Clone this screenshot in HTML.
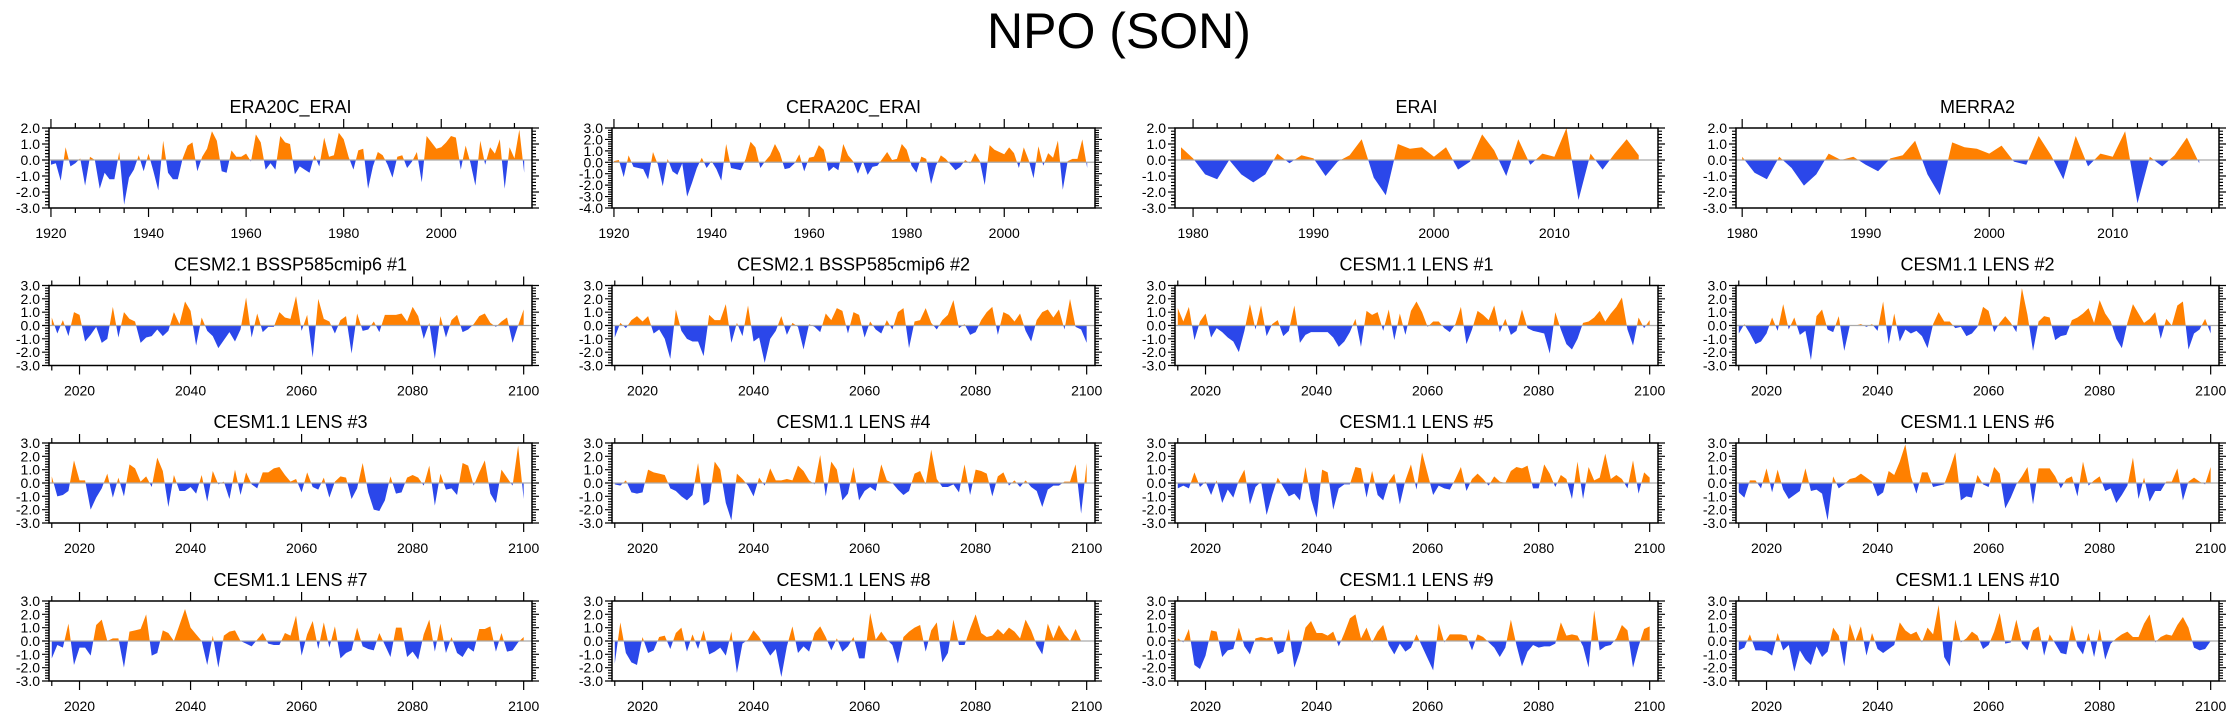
<!DOCTYPE html>
<html><head><meta charset="utf-8"><title>NPO (SON)</title>
<style>
html,body{margin:0;padding:0;background:#fff;}
svg{display:block;font-family:"Liberation Sans",Arial,sans-serif;}
</style></head>
<body>
<svg id="chart" width="2238" height="719" viewBox="0 0 2238 719" xmlns="http://www.w3.org/2000/svg">
<rect x="0" y="0" width="2238" height="719" fill="#fff"/>
<text x="1119" y="48" text-anchor="middle" font-size="50" fill="#000">NPO (SON)</text>
</svg>
<script>
// ---- data (one value per year) ----
const panelTitles = ["ERA20C_ERAI","CERA20C_ERAI","ERAI","MERRA2",
 "CESM2.1 BSSP585cmip6 #1","CESM2.1 BSSP585cmip6 #2","CESM1.1 LENS #1","CESM1.1 LENS #2",
 "CESM1.1 LENS #3","CESM1.1 LENS #4","CESM1.1 LENS #5","CESM1.1 LENS #6",
 "CESM1.1 LENS #7","CESM1.1 LENS #8","CESM1.1 LENS #9","CESM1.1 LENS #10"];
const panelStartYears = [1920,1920,1979,1980,2015,2015,2015,2015,2015,2015,2015,2015,2015,2015,2015,2015];
const panelYMin = [-3,-4,-3,-3,-3,-3,-3,-3,-3,-3,-3,-3,-3,-3,-3,-3];
const panelYMax = [2,3,2,2,3,3,3,3,3,3,3,3,3,3,3,3];
const era20cValues = [-0.3,-0.2,-1.3,0.8,-0.4,-0.2,0.1,-1.6,0.2,0,
-1.8,-0.8,-1.2,-1.2,0.5,-2.8,-1.1,-0.6,0.3,-0.7,
0.4,-0.7,-1.9,1.2,-0.8,-1.2,-1.2,0.1,0.9,1.1,
-0.7,0.2,0.7,1.8,1.2,-0.7,-0.8,0.6,0.2,0.2,
0.4,-0.1,1.6,1.1,-0.6,-0.2,-0.6,1.5,1.1,1.0,
-0.9,-0.4,-0.6,-0.8,0.3,-0.4,1.4,0.2,0.3,1.7,
1.3,0.2,-0.6,0.6,0.7,-1.8,-0.4,0.5,0.3,-0.3,
-1.1,0.2,0.3,-0.5,-0.1,0.5,-1.4,1.5,1.1,0.7,
0.8,1.1,1.5,1.4,-0.6,0.9,-0.2,-1.6,1.2,-0.3,
0.8,0.4,1.3,-1.8,0.8,0.1,1.9,-0.8];
const cera20cValues = [0.1,0.2,-1.3,0.6,-0.4,-0.5,-0.6,-1.5,0.9,-0.2,
-2.1,0.3,-0.8,-1.1,-0.1,-3.0,-1.8,-0.5,0.4,-0.5,
0.1,-0.6,-1.6,1.6,-0.5,-0.6,-0.7,0.3,1.8,1.3,
-0.5,0.1,0.6,1.6,0.8,-0.6,-0.5,-0.1,0.7,-0.8,
0.4,0.5,1.5,1.1,-0.8,-0.4,-0.7,1.6,0.6,0.1,
-1.0,0.1,-1.1,-0.4,-0.3,0.3,0.9,0.2,0.3,1.6,
1.1,-0.3,-0.9,0.5,0.3,-1.9,-0.3,0.6,0.3,-0.2,
-0.7,-0.4,0.2,-0.1,0.8,0.1,-2.0,1.5,1.1,0.9,
0.7,1.3,0.8,-0.5,1.3,0.2,-1.4,1.4,-0.3,0.8,
0.4,1.9,-2.4,0.1,0.3,0.3,2.0,-0.5];
const eraiValues = [0.8,
0.1,-0.9,-1.2,0,-0.9,-1.4,-0.9,0.4,-0.2,0.3,
0.1,-1.0,-0.1,0.3,1.3,-1.1,-2.2,1.0,0.7,0.8,
0.2,0.8,-0.6,-0.1,1.6,0.6,-1.0,1.3,-0.3,0.4,
0.2,2.0,-2.5,0.4,-0.6,0.4,1.3,0.3];
const merra2Values = [0.2,-0.8,-1.2,0.2,-0.5,-1.6,-0.9,0.4,0,0.2,
-0.3,-0.7,0.1,0.3,1.2,-0.9,-2.2,1.1,0.8,0.7,
0.4,0.9,-0.1,-0.3,1.5,0.3,-1.2,1.5,-0.4,0.4,
0.2,1.8,-2.7,0.2,-0.4,0.3,1.4,-0.2];
const cesm2m1Values = [0.6,-0.6,0.4,-0.8,1.0,
0.8,-1.2,-0.7,-0.1,-1.3,-1.0,1.4,-0.9,1.0,0.5,
0.3,-1.3,-0.9,-0.8,-0.3,-0.8,-0.4,1.0,0.1,1.8,
1.1,-1.5,0.6,-0.4,-0.8,-1.7,-1.1,-0.5,-1.2,-0.3,
2.1,-0.9,0.9,-0.5,-0.1,-0.1,1.0,0.6,0.5,2.2,
-0.4,0.8,-2.4,2.0,0.5,0.3,-0.6,0.4,0.7,-2.1,
0.9,-0.4,-0.3,0.3,-0.5,0.8,0.8,0.8,0.9,0.3,
1.4,0.7,-1.0,0.2,-2.5,0.7,-0.9,0.4,0.8,-0.5,
-0.3,0.1,0.7,0.9,0.2,-0.1,0.3,0.6,-1.3,0.0,
1.2];
const cesm2m2Values = [-0.9,0.2,-0.2,0.4,0.7,
0.3,0.7,-0.6,-0.3,-1.0,-2.5,1.2,-0.4,-1.0,-1.2,
-1.2,-2.3,0.8,0.4,0.4,1.6,-1.3,0.2,-0.8,1.5,
-1.2,-0.9,-2.8,-1.0,-0.4,0.7,-0.7,0.2,-0.1,-1.8,
0.1,-0.1,-0.5,0.9,0.4,1.3,1.1,-0.6,1.0,0.8,
-0.9,0.3,-0.3,-0.6,0.4,-0.3,1.0,1.3,-1.7,0.3,
0.4,1.3,0.2,-0.3,0.4,0.8,1.9,-0.2,0.1,-0.7,
-0.5,0.4,1.0,1.4,-0.7,1.0,0.8,0.3,0.9,-0.4,
-1.2,0.4,1.0,1.2,0.6,1.2,-0.3,2.0,-0.1,-0.3,
-1.3];
const lens1Values = [1.3,0.3,1.4,-1.1,0.3,
0.9,-0.9,-0.2,-0.5,-0.9,-1.2,-2.0,-0.4,1.6,-0.3,
1.5,-0.8,0.1,0.4,-0.8,-0.4,1.5,-1.3,-0.7,-0.5,
-0.5,-0.5,-0.5,-0.9,-1.6,-1.2,-0.5,0.5,-1.6,1.1,
0.8,1.0,-0.4,1.2,-1.1,0.9,-0.7,1.1,1.8,1.0,
-0.1,0.3,0.3,-0.2,-0.5,0.1,1.4,-1.4,-0.3,1.1,
0.8,0.4,1.5,-0.5,0.5,-0.7,-0.4,1.2,-0.2,-0.4,
-0.5,-0.6,-2.1,1.0,-0.3,-1.4,-1.8,-1.0,0.2,0.3,
0.6,1.1,0.3,0.9,1.4,2.1,-0.3,-1.5,0.6,-0.2,
0.4];
const lens2Values = [-0.6,0.1,-0.6,-1.4,-1.2,
-0.6,0.6,-0.4,1.6,-0.3,0.6,-0.7,-0.4,-2.6,0.7,
1.2,-0.3,-0.5,0.7,-1.9,0.0,0.0,0.1,-0.1,0.1,
-0.4,1.8,-1.4,0.9,-1.2,-0.3,-0.6,-0.4,-0.8,-1.7,
0.1,1.0,0.3,0.3,-0.2,-0.1,-0.8,-0.6,-0.1,1.4,
1.1,-0.5,0.2,0.7,0.2,-0.5,2.8,0.8,-1.9,0.3,
0.7,0.6,-1.1,-0.8,-0.7,0.4,0.6,0.9,1.3,0.2,
1.9,0.9,0.3,-1.0,-1.7,0.2,1.6,0.9,0.2,0.5,
1.0,-1.0,0.5,0.0,1.5,1.8,-1.8,-0.6,-0.3,0.5,
-0.6];
const lens3Values = [0.5,-1.0,-0.9,-0.6,1.7,
0.2,0.2,-2.0,-1.1,-0.4,0.7,-1.1,0.4,-1.0,1.4,
1.1,0.1,0.5,-0.3,1.9,0.9,-1.8,0.6,-0.6,-0.6,
-0.3,-0.8,0.6,-1.4,0.9,-0.1,0.1,-1.2,1.0,-0.9,
0.8,-0.1,-0.4,0.8,0.8,1.1,1.2,0.6,0.1,0.3,
-0.7,0.8,-0.3,-0.5,0.4,-1.1,0.1,0.5,0.4,-1.2,
-0.4,1.5,-0.7,-2.0,-2.1,-1.3,0.5,-0.8,-0.7,0.4,
0.6,0.4,-0.2,1.3,-1.7,0.7,-0.5,-0.4,-0.9,1.5,
1.3,-0.2,0.8,1.7,-0.8,-1.5,1.0,0.4,-0.2,2.8,
-1.2];
const lens4Values = [-0.1,-0.2,0.2,-0.7,-0.8,
-0.7,1.0,0.8,0.7,0.6,-0.4,-0.6,-1.0,-1.3,-0.9,
1.5,-1.7,-1.4,1.6,1.0,-1.5,-2.8,0.7,0.3,-0.2,
-1.0,0.4,-0.2,1.1,0.2,0.2,0.3,0.2,1.3,0.9,
0.2,-0.1,2.1,-1.0,1.6,1.0,-1.3,-0.8,1.2,-1.3,
-0.6,-0.3,-0.6,1.4,0.2,0.0,-0.5,-0.9,-0.6,0.7,
0.9,-0.1,2.5,0.3,-0.3,-0.3,-0.1,-0.7,1.4,-0.9,
1.0,0.9,0.7,-1.0,0.5,0.8,-0.2,0.2,-0.3,0.2,
-0.3,-0.6,-1.8,-0.5,-0.2,-0.2,0.1,0.1,1.4,-2.3,
1.5];
const lens5Values = [-0.4,-0.2,-0.4,0.8,-0.3,
0.1,-0.9,0.2,-1.5,-0.5,-1.1,0.2,1.0,-1.6,-0.3,
0.1,-2.4,-0.9,0.4,-0.3,-1.0,-0.8,-1.3,1.2,-1.2,
-2.6,1.0,0.8,-2.0,-0.4,-0.1,-0.1,1.2,1.1,-1.1,
0.9,-0.9,-1.3,0.1,0.7,-1.6,0.2,1.4,-0.5,2.3,
0.7,-0.9,-0.2,-0.4,-0.5,0.3,1.2,-0.6,0.3,0.7,
0.3,-0.2,0.5,0.1,0.0,0.9,1.2,1.1,1.3,-0.4,
-0.4,1.4,0.7,-0.3,0.6,0.3,-1.2,1.6,-1.2,1.2,
0.2,0.4,2.2,0.3,0.6,0.3,-0.4,1.7,-0.8,0.8,
0.4];
const lens6Values = [-0.7,-1.1,0.2,0.2,-0.4,
1.1,-0.7,1.0,-0.5,-1.2,-0.9,-0.6,1.1,-0.6,-0.5,
-0.8,-2.8,0.5,-0.4,-0.1,0.3,0.4,0.7,0.4,0.1,
-1.0,-0.7,0.9,0.6,1.6,2.9,0.5,-0.8,0.8,0.8,
-0.3,-0.2,-0.1,1.0,2.3,-1.3,-1.0,-1.1,0.6,-0.1,
-0.3,1.2,0.7,-1.9,-1.1,-0.1,0.5,1.2,-1.6,1.1,
1.1,1.1,0.5,-0.4,0.3,0.5,-1.0,1.6,-0.2,0.2,
0.5,-0.6,-0.4,-1.5,-0.9,-0.2,1.9,-1.2,0.4,-1.4,
-0.6,-0.6,0.1,0.1,1.1,-1.3,0.1,0.4,0.1,-0.1,
1.2];
const lens7Values = [-1.3,-0.3,-0.5,1.3,-1.8,
-0.5,-0.5,-1.1,1.2,1.6,0.0,0.2,0.2,-2.0,0.7,
0.8,0.9,2.0,-1.1,-0.9,0.8,0.6,0.0,1.2,2.4,
1.0,0.5,0.0,-1.8,0.4,-2.0,0.4,0.7,0.8,0.0,
-0.2,-0.4,0.1,0.6,-0.2,-0.3,-0.3,0.6,0.4,1.9,
-1.1,0.5,1.5,-0.6,1.4,-0.5,1.1,-1.3,-0.9,-0.7,
1.0,-0.4,-0.6,-0.7,0.6,-0.3,-1.2,1.0,1.0,-1.2,
-0.8,-1.4,0.5,1.6,-0.8,1.3,-0.9,0.3,-0.9,-1.2,
-0.5,-0.8,0.9,0.9,1.1,-0.8,0.6,-0.8,-0.7,-0.1,
0.3];
const lens8Values = [-1.7,1.4,-0.9,-1.6,-1.8,
0.3,-0.9,-0.7,0.3,0.4,-0.6,0.6,1.0,-0.8,0.5,
-0.6,0.8,-1.0,-0.8,-0.5,-1.1,0.7,-2.4,-0.2,0.1,
0.8,0.3,-0.4,-1.1,-0.6,-2.7,-0.4,1.1,-0.9,-0.4,
-0.8,0.6,1.1,0.3,-0.7,0.2,-0.8,-0.4,0.3,-1.3,
-1.3,2.1,0.1,0.7,0.1,-0.3,-1.7,0.3,0.7,1.0,
1.2,-0.8,0.8,1.4,-1.6,-0.9,1.6,-0.3,-0.3,0.9,
2.0,0.6,0.3,0.4,0.9,0.5,1.0,0.7,0.2,1.6,
0.8,-0.3,-1.0,1.3,0.2,1.2,0.5,0.0,0.9,0.0,
0.0];
const lens9Values = [0.2,-0.1,0.9,-1.8,-2.1,
-1.1,0.8,0.7,-1.2,-0.7,-0.6,1.0,-0.4,-1.0,0.2,
0.3,0.2,0.3,-1.0,-0.8,0.9,-2.0,-0.8,1.0,1.5,
0.6,0.6,0.4,0.7,-0.4,0.6,1.7,2.0,0.2,1.0,
-0.1,0.7,1.2,-0.3,-1.0,-0.2,-0.8,-0.5,0.5,-0.4,
-1.3,-2.2,1.3,-0.1,0.5,0.5,0.5,0.4,-0.7,0.5,
0.3,-0.1,-0.5,-1.2,-0.5,1.6,-0.3,-1.9,-0.8,-0.3,
-0.5,-0.4,-0.4,-0.2,1.4,0.4,0.5,0.4,-0.4,-2.0,
2.3,-0.7,-0.4,-0.3,0.2,1.2,0.8,-2.0,-0.4,0.9,
1.1];
const lens10Values = [-0.7,-0.5,0.5,-0.7,-0.7,
-0.8,-1.1,0.6,-0.7,-0.3,-2.3,-0.7,-1.4,-1.8,-0.4,
-1.2,-0.8,1.0,0.4,-1.9,1.3,0.0,1.1,-1.1,0.6,
-0.6,-0.9,-0.6,-0.3,1.4,0.8,0.5,0.7,-0.1,1.0,
0.5,2.7,-1.2,-1.9,1.6,-0.1,0.2,0.7,0.4,-0.6,
-0.3,0.7,2.1,-0.2,-0.1,1.6,-0.2,-0.7,0.8,1.1,
-1.1,0.5,-0.2,-0.9,-1.0,1.2,-0.4,-1.0,0.6,-1.2,
0.9,-1.4,-0.2,0.2,0.5,0.7,0.3,0.3,1.3,2.0,
-0.1,0.3,0.5,0.4,1.2,1.8,1.0,-0.5,-0.7,-0.6,
0.0];
const panelSeries = [era20cValues,cera20cValues,eraiValues,merra2Values,
 cesm2m1Values,cesm2m2Values,lens1Values,lens2Values,
 lens3Values,lens4Values,lens5Values,lens6Values,
 lens7Values,lens8Values,lens9Values,lens10Values];

// ---- layout ----
const NS = "http://www.w3.org/2000/svg";
const svg = document.getElementById("chart");
const colLeft = [49, 612, 1175, 1736];
const rowTop = [128, 285.5, 443, 601];
const PW = 483, PH = 80;
const ORANGE = "#ff8000", BLUE = "#2b47ea";

function mk(tag, attrs, parent) {
  const e = document.createElementNS(NS, tag);
  for (const k in attrs) e.setAttribute(k, attrs[k]);
  parent.appendChild(e);
  return e;
}

function xDomain(i) {
  const s = panelStartYears[i];
  if (s === 1920) return [1919.6, 2018.6];
  if (s === 1979) return [1978.5, 2018.6];
  if (s === 1980) return [1979.5, 2018.6];
  return [2014.5, 2101.5];
}
function xTicks(i) {
  const s = panelStartYears[i];
  if (s === 1920) return {major:[1920,1940,1960,1980,2000], minor:5, from:1920, to:2015};
  if (s < 2000) return {major:[1980,1990,2000,2010], minor:2, from:1980, to:2018};
  return {major:[2020,2040,2060,2080,2100], minor:5, from:2015, to:2100};
}

for (let i = 0; i < 16; i++) {
  const L = colLeft[i % 4], T = rowTop[Math.floor(i / 4)], R = L + PW, B = T + PH;
  const [x0, x1] = xDomain(i);
  const yMin = panelYMin[i], yMax = panelYMax[i];
  const xs = v => L + (v - x0) / (x1 - x0) * PW;
  const ys = v => B - (v - yMin) / (yMax - yMin) * PH;
  const g = mk("g", {}, svg);
  
  

  const title = mk("text", {x: (L + R) / 2, y: T - 15, "text-anchor": "middle", "font-size": 18, fill: "#000"}, g);
  title.textContent = panelTitles[i];
  
  

  // build points with zero-crossings
  const vals = panelSeries[i], start = panelStartYears[i];
  const pts = [];
  for (let k = 0; k < vals.length; k++) {
    const yr = start + k, v = vals[k];
    if (k > 0) {
      const pv = vals[k - 1];
      if ((pv > 0 && v < 0) || (pv < 0 && v > 0)) {
        const t = pv / (pv - v);
        pts.push([yr - 1 + t, 0]);
      }
    }
    pts.push([yr, v]);
  }
  const first = pts[0][0], last = pts[pts.length - 1][0];
  let pos = `M${xs(first)},${ys(0)} `, neg = pos;
  for (const p of pts) {
    pos += `L${xs(p[0]).toFixed(2)},${ys(Math.max(p[1], 0)).toFixed(2)} `;
    neg += `L${xs(p[0]).toFixed(2)},${ys(Math.min(p[1], 0)).toFixed(2)} `;
  }
  pos += `L${xs(last)},${ys(0)} Z`; neg += `L${xs(last)},${ys(0)} Z`;
  const pa = mk("path", {d: pos, fill: ORANGE, stroke: "none"}, g);
  
  
  const na = mk("path", {d: neg, fill: BLUE, stroke: "none"}, g);
  
  
  const zl = mk("line", {x1: L, x2: R, y1: ys(0), y2: ys(0), stroke: "#aaa", "stroke-width": 1.2}, g);
  
  

  // frame
  const box = mk("rect", {x: L, y: T, width: PW, height: PH, fill: "none", stroke: "#000", "stroke-width": 1.5}, g);
  
  

  // y ticks
  let tp = "";
  for (let m = Math.round(yMin * 5); m <= Math.round(yMax * 5); m++) {
    const v = m / 5, y = ys(v).toFixed(2), major = (m % 5 === 0);
    const len = major ? 7 : 4;
    tp += `M${L},${y}h${-len}M${R},${y}h${len}`;
    if (major) {
      const lab = mk("text", {x: L - 9, y: +y + 5, "text-anchor": "end", "font-size": 14, fill: "#000"}, g);
      lab.textContent = v.toFixed(1);
      
      
    }
  }
  // x ticks
  const xt = xTicks(i);
  for (let yr = xt.from; yr <= xt.to; yr += xt.minor) {
    if (yr < x0 || yr > x1) continue;
    const x = xs(yr).toFixed(2), major = xt.major.includes(yr);
    const len = major ? 9 : 5;
    tp += `M${x},${T}v${-len}M${x},${B}v${len}`;
  }
  for (const yr of xt.major) {
    if (yr < x0 || yr > x1) continue;
    const lab = mk("text", {x: xs(yr), y: B + 30, "text-anchor": "middle", "font-size": 14, fill: "#000"}, g);
    lab.textContent = String(yr);
    
    
  }
  const ticks = mk("path", {d: tp, stroke: "#000", "stroke-width": 1.2, fill: "none"}, g);
  
  
}
</script>
</body></html>
